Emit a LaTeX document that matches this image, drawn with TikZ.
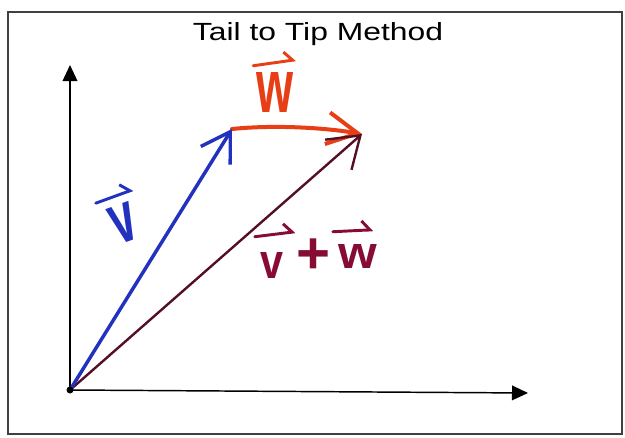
\documentclass[tikz,border=0pt]{standalone}
\usepackage{fontspec}
\setmainfont{Liberation Sans}
\usepackage{graphicx}
\usetikzlibrary{arrows.meta}
\definecolor{vblue}{RGB}{35,50,190}
\definecolor{wred}{RGB}{232,62,22}
\definecolor{sumline}{RGB}{85,15,35}
\definecolor{sumtext}{RGB}{135,12,52}
\begin{document}
\begin{tikzpicture}[x=0.75pt,y=0.75pt,
  frame/.style={draw=black!75, line width=1.5pt},
  axis/.style={draw=black, line width=1.1pt, -{Triangle[length=12pt,width=11pt]}},
  vecv/.style={draw=vblue, line width=2.6pt, line cap=round, -{Straight Barb[length=21pt,width=26pt]}},
  vecw/.style={draw=wred, line width=3pt, line cap=round, -{Straight Barb[length=23pt,width=24pt]}},
  vecs/.style={draw=sumline, line width=1.8pt, line cap=round, -{Straight Barb[length=22pt,width=30pt]}},
  lbl/.style={inner sep=0pt, font=\bfseries},
  harp/.style={line width=2.2pt, line cap=round, -{Straight Barb[left,length=6pt,width=14pt]}}
]
\useasboundingbox (0,0) rectangle (625,437);
\draw[frame] (8,3) rectangle (622,425);

\node[anchor=base] (title) at (318,397) {\resizebox{187.5pt}{13.5pt}{Tail to Tip Method}};

\coordinate (O) at (70,47);
\coordinate (Ytip) at (70,372);
\coordinate (Xtip) at (528,44);
\coordinate (P) at (232,308);
\coordinate (Q) at (362,303);

\draw[axis] (O) -- (Ytip);
\draw[axis] (O) -- (Xtip);
\draw[vecw] (P) .. controls (270,312) and (320,310) .. (Q);
\draw[vecs] (O) -- (Q);
\draw[vecv] (O) -- (P);
\fill[black] (O) circle (3.5);

% labels
\node[lbl, text=vblue, rotate=20, inner xsep=5.25pt, inner ysep=6.75pt] (vlab) at (124,214) {\resizebox{18.75pt}{28.5pt}{v}};
\draw[harp, vblue] (vlab.north west) -- (vlab.north east);

\node[lbl, text=wred, anchor=base] (wlab) at (275,325) {\resizebox{27.75pt}{30pt}{w}};
\draw[harp, wred] ([shift={(-3,6)}]wlab.north west) -- ([shift={(2,12)}]wlab.north east);

\node[lbl, text=sumtext, anchor=base] (sv) at (271.5,159) {\resizebox{17.25pt}{19.5pt}{v}};
\draw[harp, sumtext] ([shift={(-5,15)}]sv.north west) -- ([shift={(12,20)}]sv.north east);
\node[lbl, text=sumtext] (plus) at (313,180.5) {\resizebox{25.5pt}{26pt}{+}};
\node[lbl, text=sumtext, anchor=base] (sw) at (357.5,169) {\resizebox{29pt}{18pt}{w}};
\draw[harp, sumtext] ([shift={(-5,12)}]sw.north west) -- ([shift={(-4,14)}]sw.north east);
\end{tikzpicture}
\end{document}
